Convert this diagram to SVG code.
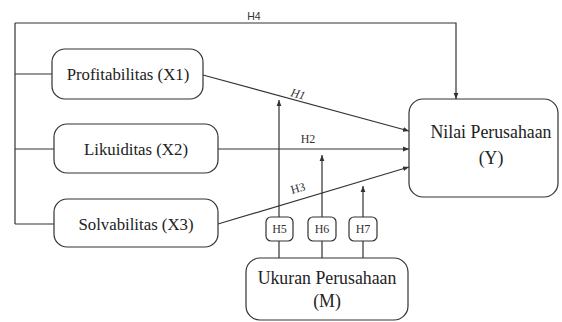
<svg xmlns="http://www.w3.org/2000/svg" width="562" height="322" viewBox="0 0 562 322">
<style>
.box{fill:#fff;stroke:#333;stroke-width:1.2}
.ln{fill:none;stroke:#333;stroke-width:1.2}
.t{font-family:"Liberation Serif",serif;font-size:16.8px;fill:#222;text-anchor:middle}
.b{font-family:"Liberation Serif",serif;font-size:17.8px;fill:#222;text-anchor:middle}
.s{font-family:"Liberation Serif",serif;font-size:12px;fill:#333;text-anchor:middle}
.h{font-family:"Liberation Sans",sans-serif;font-size:10.5px;fill:#333;text-anchor:middle}
</style>
<defs>
<marker id="a" viewBox="0 0 10 10" refX="10" refY="5" markerWidth="6" markerHeight="6" markerUnits="userSpaceOnUse" orient="auto"><path d="M0,1 L10,5 L0,9 z" fill="#333"/></marker>
</defs>
<rect width="562" height="322" fill="#fff"/>
<g id="connectors">
<path class="ln" d="M15,23 H456 V99" marker-end="url(#a)"/>
<path class="ln" d="M15,23 V224"/>
<path class="ln" d="M15,74 H52"/>
<path class="ln" d="M15,149 H54"/>
<path class="ln" d="M15,224 H54"/>
<path class="ln" d="M203,75 L409,131" marker-end="url(#a)"/>
<path class="ln" d="M218,149 L409,149" marker-end="url(#a)"/>
<path class="ln" d="M218,224 L409,167" marker-end="url(#a)"/>
<path class="ln" d="M279,258 V241 M279,217 V100" marker-end="url(#a)"/>
<path class="ln" d="M322,258 V241 M322,217 V155" marker-end="url(#a)"/>
<path class="ln" d="M363,258 V241 M363,217 V186" marker-end="url(#a)"/>
<text class="h" x="254" y="20">H4</text>
<text class="s" x="297" y="98" font-style="italic" transform="rotate(15 297 98)">H1</text>
<text class="s" x="308" y="143">H2</text>
<text class="s" x="299" y="192" transform="rotate(-16 299 192)">H3</text>
</g>
<g id="x1"><rect class="box" x="52" y="49" width="151" height="50" rx="13"/><text class="t" x="128" y="80">Profitabilitas (X1)</text></g>
<g id="x2"><rect class="box" x="54" y="124" width="164" height="49" rx="13"/><text class="t" x="136" y="155">Likuiditas (X2)</text></g>
<g id="x3"><rect class="box" x="54" y="199" width="164" height="48" rx="13"/><text class="t" x="136" y="230">Solvabilitas (X3)</text></g>
<g id="y"><rect class="box" x="409" y="99" width="149" height="98" rx="14"/><text class="b" x="491" y="138">Nilai Perusahaan</text><text class="b" x="491" y="164">(Y)</text></g>
<g id="h5"><rect class="box" x="266" y="217" width="27" height="24" rx="5"/><text class="s" x="279.5" y="233">H5</text></g>
<g id="h6"><rect class="box" x="308" y="217" width="28" height="24" rx="5"/><text class="s" x="322" y="233">H6</text></g>
<g id="h7"><rect class="box" x="349" y="217" width="28" height="24" rx="5"/><text class="s" x="363" y="233">H7</text></g>
<g id="m"><rect class="box" x="246" y="258" width="162" height="62" rx="14"/><text class="b" x="327" y="284">Ukuran Perusahaan</text><text class="b" x="327" y="307">(M)</text></g>
</svg>
